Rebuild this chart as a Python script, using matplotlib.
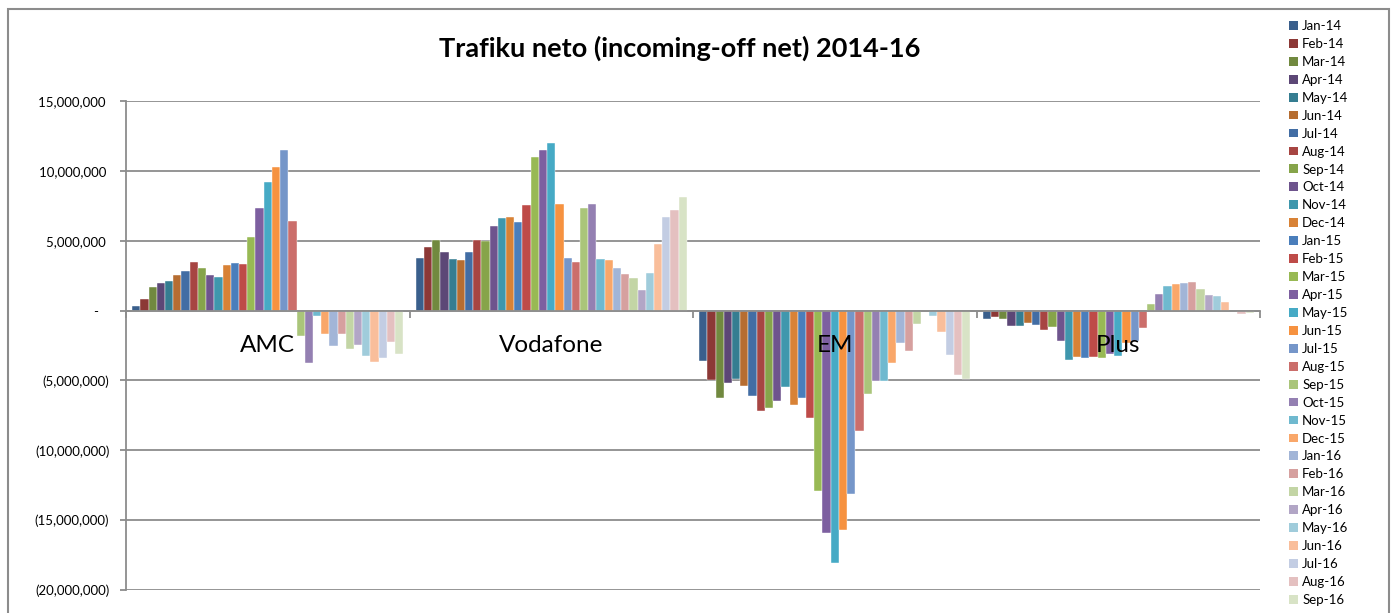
import numpy as np
import matplotlib.pyplot as plt
from matplotlib.patches import Rectangle, Patch
from matplotlib.ticker import FuncFormatter, FixedLocator

plt.rcParams['font.family'] = ['Lato', 'DejaVu Sans']

operators = ['AMC', 'Vodafone', 'EM', 'Plus']
months = ['Jan-14', 'Feb-14', 'Mar-14', 'Apr-14', 'May-14', 'Jun-14',
          'Jul-14', 'Aug-14', 'Sep-14', 'Oct-14', 'Nov-14', 'Dec-14',
          'Jan-15', 'Feb-15', 'Mar-15', 'Apr-15', 'May-15', 'Jun-15',
          'Jul-15', 'Aug-15', 'Sep-15', 'Oct-15', 'Nov-15', 'Dec-15',
          'Jan-16', 'Feb-16', 'Mar-16', 'Apr-16', 'May-16', 'Jun-16',
          'Jul-16', 'Aug-16', 'Sep-16']

# net traffic per month, millions
amc = [0.36, 0.81, 1.67, 1.98, 2.12, 2.55, 2.81, 3.45, 3.07, 2.57, 2.43, 3.29,
       3.40, 3.36, 5.29, 7.36, 9.17, 10.26, 11.52, 6.43, -1.83, -3.74, -0.38, -1.69,
       -2.57, -1.71, -2.76, -2.48, -3.24, -3.69, -3.43, -2.24, -3.12]
vodafone = [3.79, 4.57, 5.07, 4.19, 3.71, 3.64, 4.21, 5.07, 4.98, 6.02, 6.64, 6.69,
            6.33, 7.57, 11.00, 11.50, 12.02, 7.64, 3.74, 3.50, 7.36, 7.64, 3.71, 3.64,
            3.07, 2.60, 2.31, 1.48, 2.71, 4.74, 6.69, 7.17, 8.12]
em = [-3.64, -4.98, -6.29, -5.17, -4.88, -5.38, -6.10, -7.22, -6.96, -6.46, -5.50, -6.77,
      -6.29, -7.70, -12.92, -15.89, -18.04, -15.72, -13.13, -8.61, -5.96, -5.02, -5.02, -3.76,
      -2.34, -2.89, -0.98, -0.03, -0.41, -1.56, -3.21, -4.59, -4.88]
plus = [-0.57, -0.48, -0.57, -1.07, -1.07, -0.90, -1.05, -1.38, -1.15, -2.16, -3.57, -3.30,
        -3.43, -3.30, -3.40, -3.12, -3.27, -2.30, -2.17, -1.26, 0.50, 1.19, 1.76, 1.93,
        1.98, 2.05, 1.55, 1.12, 1.07, 0.64, -0.02, -0.24, -0.19]

colors = ['#3a5f8c', '#8c3836', '#71893f', '#5c4776', '#357d91', '#b66d31',
          '#426da4', '#a74542', '#86a44a', '#6e548d', '#3f97ad', '#d88236',
          '#4a7ebb', '#be4b48', '#98b954', '#7d5fa0', '#46aac5', '#f69240',
          '#7596c9', '#cb6e6b', '#aac57a', '#9480b2', '#6fb9cf', '#f9a76a',
          '#a2b5d7', '#d6a09f', '#c3d5a5', '#b2a6c6', '#a0ccdb', '#f9be9b',
          '#c3cde3', '#e4c0c0', '#d8e3c6']

data = np.array([amc, vodafone, em, plus]) * 1e6  # rows = operators

W, H = 1393, 613
fig = plt.figure(figsize=(W / 100, H / 100), dpi=100)
ax = fig.add_axes([126 / W, 1 - 590 / H, (1260 - 126) / W, (590 - 101) / H])

n = len(months)
bw = 1 / (n + 1.5)
x0 = np.arange(len(operators)) + 0.5
for j, m in enumerate(months):
    ax.bar(x0 + (j - (n - 1) / 2) * bw, data[:, j], width=bw, color=colors[j],
           edgecolor='white', linewidth=0.3, label=m, zorder=3)

ax.set_xlim(0, len(operators))
ax.set_ylim(-20e6, 15e6)
ax.set_yticks(np.arange(-20e6, 15e6 + 1, 5e6))

def fmt(v, pos):
    if abs(v) < 1:
        return '-   '
    s = f'{abs(v):,.0f}'
    return f'({s})' if v < 0 else s + ' '

ax.yaxis.set_major_formatter(FuncFormatter(fmt))
ax.grid(axis='y', color='#8c8c8c', linewidth=1.3, zorder=0)

for s in ['top', 'right']:
    ax.spines[s].set_visible(False)
ax.spines['left'].set_color('#8c8c8c')
ax.spines['left'].set_linewidth(1.3)
ax.spines['bottom'].set_position(('data', 0))
ax.spines['bottom'].set_color('#8c8c8c')
ax.spines['bottom'].set_linewidth(1.3)
ax.spines['bottom'].set_zorder(4)

ax.xaxis.set_major_locator(FixedLocator(np.arange(len(operators) + 1)))
ax.set_xticklabels([])
ax.tick_params(axis='x', direction='out', length=5, width=1.3, color='#8c8c8c')
ax.tick_params(axis='y', direction='out', length=4, width=1.3, color='#8c8c8c',
               labelsize=9.5, pad=8)

# category names sit on top of the bars, just under the zero line
for xc, name in zip(x0, operators):
    ax.text(xc, -2.5e6, name, ha='center', va='center', fontsize=17.5, zorder=6)

fig.text(680 / W, 1 - 48 / H, 'Trafiku neto (incoming-off net) 2014-16',
         ha='center', va='center', fontsize=19.5, fontweight='bold')

handles = [Patch(facecolor=c) for c in colors]
fig.legend(handles, months, loc='upper left', bbox_to_anchor=(1289 / W, 1 - 20 / H),
           frameon=False, fontsize=9.5, handlelength=0.65, handleheight=0.65,
           handletextpad=0.35, labelspacing=0.45, borderpad=0, borderaxespad=0)

fig.patches.append(Rectangle((8 / W, -0.05), (1389 - 8) / W, 1.05 - 9 / H,
                             transform=fig.transFigure, fill=False,
                             edgecolor='#8c8c8c', linewidth=1.5))

fig.savefig('out.png', dpi=100)
